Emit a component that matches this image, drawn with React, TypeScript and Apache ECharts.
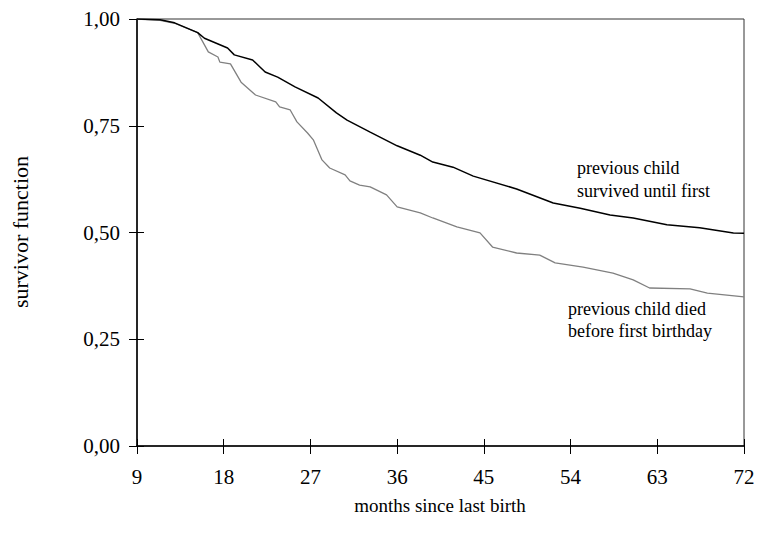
import React, { useEffect, useRef } from "react";
import * as echarts from "echarts";

// months since last birth
const survivedMonths = [9, 11.4, 12.9, 15.3, 16.0, 18.4, 19.1, 21.0, 22.3, 23.6, 25.4, 27.8, 29.7, 30.8, 33.2, 36.0, 38.4, 39.7, 41.8, 43.9, 48.4, 52.2, 55.0, 58.1, 60.5, 64.0, 67.4, 70.9, 72];
const survivedValues = [1.0, 0.998, 0.991, 0.968, 0.955, 0.932, 0.916, 0.904, 0.876, 0.864, 0.841, 0.815, 0.78, 0.763, 0.735, 0.703, 0.681, 0.665, 0.653, 0.632, 0.602, 0.569, 0.557, 0.541, 0.534, 0.518, 0.511, 0.499, 0.498];

const diedMonths = [9, 11.4, 12.9, 15.3, 16.4, 17.4, 17.6, 18.7, 19.8, 21.3, 23.4, 23.8, 24.9, 25.6, 26.7, 27.3, 28.2, 29.0, 30.6, 31.1, 32.1, 33.2, 34.9, 36.0, 38.4, 39.7, 42.2, 44.6, 45.9, 48.4, 50.8, 52.4, 55.3, 58.4, 60.5, 62.2, 66.4, 68.2, 72];
const diedValues = [1.0, 0.997, 0.99, 0.968, 0.923, 0.911, 0.899, 0.895, 0.852, 0.822, 0.806, 0.794, 0.787, 0.759, 0.733, 0.717, 0.67, 0.651, 0.635, 0.621, 0.611, 0.607, 0.588, 0.56, 0.546, 0.534, 0.513, 0.499, 0.466, 0.452, 0.447, 0.429, 0.419, 0.405, 0.389, 0.37, 0.368, 0.358, 0.349];

const xTicks = { min: 9, max: 72, interval: 9 };
const yTicks = { min: 0, max: 1, interval: 0.25 };

const FONT = "'Liberation Serif', 'Times New Roman', serif";

export default function App() {
  const ref = useRef<HTMLDivElement>(null);
  useEffect(() => {
    if (!ref.current) return;
    const chart = echarts.init(ref.current, undefined, { renderer: "svg" });
    const pair = (xs: number[], ys: number[]) => xs.map((x, i) => [x, ys[i]]);
    const tickOut = { show: true, length: 8, inside: false, lineStyle: { color: "#000", width: 1 } };
    const tickIn = { show: true, length: 7, inside: true, lineStyle: { color: "#000", width: 1 } };
    chart.setOption({
      animation: false,
      backgroundColor: "#fff",
      grid: { left: 137, right: 14, top: 19, bottom: 90, show: true, borderColor: "#333", borderWidth: 1 },
      xAxis: [
        {
          type: "value", ...xTicks, position: "bottom",
          axisLine: { show: true, lineStyle: { color: "#000", width: 1.5 } },
          axisTick: tickOut,
          axisLabel: { color: "#000", fontFamily: FONT, fontSize: 21, margin: 20 },
          splitLine: { show: false },
        },
        {
          type: "value", ...xTicks, position: "bottom",
          axisLine: { show: false },
          axisTick: tickIn,
          axisLabel: { show: false },
          splitLine: { show: false },
        },
      ],
      yAxis: [
        {
          type: "value", ...yTicks, position: "left",
          axisLine: { show: true, lineStyle: { color: "#000", width: 1.5 } },
          axisTick: tickOut,
          axisLabel: { color: "#000", fontFamily: FONT, fontSize: 21, margin: 17, formatter: (v: number) => v.toFixed(2).replace(".", ",") },
          splitLine: { show: false },
        },
        {
          type: "value", ...yTicks, position: "left",
          axisLine: { show: false },
          axisTick: tickIn,
          axisLabel: { show: false },
          splitLine: { show: false },
        },
      ],
      series: [
        {
          name: "previous child survived until first birthday",
          type: "line", data: pair(survivedMonths, survivedValues), showSymbol: false,
          lineStyle: { color: "#000", width: 1.5 }, z: 3,
        },
        {
          name: "previous child died before first birthday",
          type: "line", data: pair(diedMonths, diedValues), showSymbol: false,
          lineStyle: { color: "#808080", width: 1.3 }, z: 2,
        },
      ],
      graphic: [
        { type: "text", x: 577, y: 156, style: { text: "previous child\nsurvived until first", fill: "#000", font: `18px ${FONT}`, lineHeight: 23 } },
        { type: "text", x: 568, y: 298, style: { text: "previous child died\nbefore first birthday", fill: "#000", font: `18px ${FONT}`, lineHeight: 22 } },
        { type: "text", x: 440, y: 505, style: { text: "months since last birth", fill: "#000", font: `19px ${FONT}`, align: "center", verticalAlign: "middle" } },
        { type: "text", x: 20, y: 232, rotation: Math.PI / 2, style: { text: "survivor function", fill: "#000", font: `22px ${FONT}`, align: "center", verticalAlign: "middle" } },
      ],
    });
    return () => chart.dispose();
  }, []);
  return <div ref={ref} style={{ width: 758, height: 536, position: "absolute", left: 0, top: 0 }} />;
}
